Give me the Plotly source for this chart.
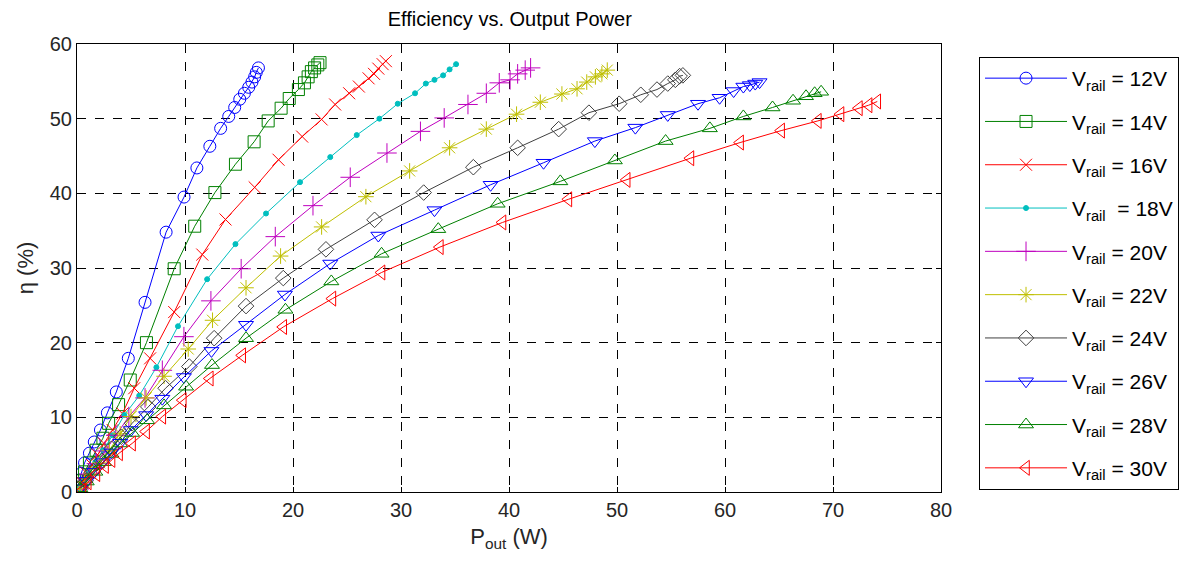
import plotly.graph_objects as go

# ---- data ----
labels = ["V<sub>rail</sub> = 12V", "V<sub>rail</sub> = 14V", "V<sub>rail</sub> = 16V",
          "V<sub>rail</sub> \u00a0= 18V", "V<sub>rail</sub> = 20V", "V<sub>rail</sub> = 22V",
          "V<sub>rail</sub> = 24V", "V<sub>rail</sub> = 26V", "V<sub>rail</sub> = 28V",
          "V<sub>rail</sub> = 30V"]

p12 = [0.05, 0.2, 0.4, 0.7, 1.15, 1.6, 2.17, 2.81, 3.64, 4.75, 6.3, 8.25, 9.91, 11.1, 12.3, 13.3, 14.05, 14.6, 15.07, 15.5, 15.9, 16.2, 16.45, 16.6, 16.8]
e12 = [0.6, 1.6, 2.5, 3.9, 5.2, 6.7, 8.3, 10.6, 13.4, 17.9, 25.4, 34.8, 39.5, 43.4, 46.3, 48.7, 50.3, 51.5, 52.6, 53.4, 54.2, 54.9, 55.6, 56.2, 56.8]

p14 = [0.1, 0.35, 0.7, 1.15, 1.77, 2.4, 2.93, 3.85, 4.93, 6.43, 9.0, 10.9, 12.77, 14.67, 16.4, 17.7, 18.9, 19.65, 20.5, 21.06, 21.4, 21.7, 22.0, 22.3, 22.5]
e14 = [0.6, 1.5, 2.7, 3.9, 5.6, 7.2, 9.2, 11.7, 15.0, 20.0, 29.9, 35.6, 40.1, 43.9, 46.9, 49.7, 51.4, 52.7, 53.9, 54.8, 55.6, 56.3, 56.8, 57.2, 57.5]

p16 = [0.15, 0.45, 0.9, 1.4, 1.9, 2.5, 3.3, 4.2, 5.3, 6.77, 9.0, 11.6, 13.75, 16.45, 18.66, 20.85, 22.65, 23.9, 25.2, 26.1, 27.0, 27.5, 27.9, 28.3, 28.6]
e16 = [0.5, 1.3, 2.5, 3.6, 5.0, 6.5, 8.3, 10.5, 13.9, 17.9, 24.1, 31.8, 36.5, 40.8, 44.5, 47.6, 49.9, 51.9, 53.4, 54.3, 55.4, 56.0, 56.7, 57.3, 57.7]

p18 = [0.2, 0.6, 1.1, 1.7, 2.4, 3.3, 4.38, 5.76, 7.35, 9.35, 12.05, 14.67, 17.5, 20.65, 23.45, 25.9, 28.0, 29.7, 31.3, 32.3, 33.1, 33.9, 34.5, 35.1]
e18 = [0.5, 1.4, 2.6, 4.0, 5.6, 7.6, 10.3, 12.9, 16.7, 22.2, 28.5, 33.2, 37.3, 41.5, 44.85, 47.8, 50.0, 52.0, 53.4, 54.7, 55.2, 55.8, 56.6, 57.3]

p20 = [0.2, 0.6, 1.1, 1.8, 2.6, 3.6, 4.8, 6.3, 7.9, 9.9, 12.4, 15.2, 18.36, 21.85, 25.3, 28.7, 31.8, 34.0, 36.2, 37.9, 39.1, 40.1, 40.8, 41.5, 42.0]
e20 = [0.4, 1.3, 2.4, 3.8, 5.5, 7.6, 10.1, 12.6, 16.3, 20.8, 25.6, 29.9, 34.2, 38.35, 42.15, 45.4, 48.3, 50.1, 51.9, 53.4, 54.8, 55.2, 56.0, 56.5, 56.8]

p22 = [0.25, 0.7, 1.3, 2.1, 3.0, 4.0, 5.0, 6.4, 8.06, 10.3, 12.55, 15.65, 18.85, 22.65, 26.75, 30.8, 34.5, 37.9, 40.7, 42.9, 44.9, 46.3, 47.2, 48.0, 48.6, 49.1]
e22 = [0.5, 1.3, 2.4, 3.9, 5.6, 7.8, 10.1, 12.6, 15.5, 19.15, 23.0, 27.35, 31.6, 35.5, 39.55, 43.0, 46.1, 48.6, 50.6, 52.2, 53.3, 54.0, 54.9, 55.6, 56.0, 56.5]

p24 = [0.3, 0.8, 1.5, 2.3, 3.2, 4.1, 5.1, 6.6, 8.2, 10.4, 12.7, 15.65, 19.1, 23.05, 27.55, 32.1, 36.7, 40.8, 44.6, 47.4, 50.2, 52.2, 53.7, 54.7, 55.4, 55.8, 56.1]
e24 = [0.6, 1.5, 2.8, 4.2, 5.8, 7.4, 9.2, 11.4, 13.9, 16.8, 20.6, 24.9, 28.65, 32.5, 36.45, 40.1, 43.5, 46.1, 48.6, 50.8, 52.0, 53.2, 53.9, 54.7, 55.2, 55.7, 55.8]

p26 = [0.3, 0.9, 1.6, 2.4, 3.2, 4.0, 4.99, 6.4, 7.9, 9.9, 12.45, 15.65, 19.25, 23.45, 27.9, 33.1, 38.3, 43.2, 47.95, 51.7, 54.7, 57.5, 59.5, 60.8, 61.7, 62.3, 62.8, 63.2]
e26 = [0.5, 1.5, 2.7, 4.0, 5.3, 6.6, 8.3, 10.3, 12.5, 15.4, 18.9, 22.4, 26.45, 30.6, 34.35, 37.75, 41.15, 44.1, 47.0, 48.8, 50.5, 52.0, 52.8, 53.7, 54.3, 54.5, 54.7, 54.9]

p28 = [0.3, 0.9, 1.7, 2.5, 3.2, 4.0, 5.1, 6.5, 8.06, 10.1, 12.5, 15.65, 19.3, 23.55, 28.2, 33.45, 38.95, 44.75, 49.8, 54.5, 58.6, 61.7, 64.4, 66.3, 67.5, 68.3, 68.9]
e28 = [0.5, 1.4, 2.7, 4.0, 5.1, 6.5, 7.9, 9.6, 11.6, 14.1, 17.0, 20.6, 24.4, 28.2, 31.9, 35.2, 38.6, 41.6, 44.4, 47.0, 48.7, 50.3, 51.5, 52.4, 53.0, 53.4, 53.6]

p30 = [0.5, 1.0, 1.8, 2.6, 3.2, 3.9, 5.1, 6.4, 7.9, 9.8, 12.3, 15.3, 19.1, 23.65, 28.2, 33.6, 39.4, 45.5, 50.9, 56.8, 61.4, 65.2, 68.6, 70.7, 72.4, 73.3, 74.1]
e30 = [0.2, 1.3, 2.4, 3.5, 4.3, 5.2, 6.5, 8.1, 10.1, 12.3, 15.2, 18.3, 22.1, 25.9, 29.4, 32.8, 36.1, 39.2, 41.8, 44.7, 46.8, 48.4, 49.7, 50.6, 51.4, 51.8, 52.3]

pout = [p12, p14, p16, p18, p20, p22, p24, p26, p28, p30]
eff = [e12, e14, e16, e18, e20, e22, e24, e26, e28, e30]

x_ticks = [0, 10, 20, 30, 40, 50, 60, 70, 80]
y_ticks = [0, 10, 20, 30, 40, 50, 60]

# ---- styles ----
colors = ["#0000ff", "#008000", "#ff0000", "#00bfbf", "#bf00bf", "#bfbf00",
          "#404040", "#0000ff", "#008000", "#ff0000"]
symbols = ["circle-open", "square-open", "x-thin-open", "circle", "cross-thin-open",
           "asterisk-open", "diamond-open", "triangle-down-open", "triangle-up-open",
           "triangle-left-open"]
sizes = [12, 12, 12, 5, 14, 13, 12, 13, 13, 13]

FONT = "Liberation Sans, Arial, sans-serif"

fig = go.Figure()
for i in range(len(labels)):
    fig.add_trace(go.Scatter(
        x=pout[i], y=eff[i], mode="lines+markers", name=labels[i],
        legendgroup=str(i),
        line=dict(color=colors[i], width=1),
        marker=dict(symbol=symbols[i], size=sizes[i], color=colors[i],
                    line=dict(color=colors[i], width=1)),
    ))

axis_common = dict(showline=True, linecolor="black", linewidth=1, mirror="ticks",
                   ticks="inside", ticklen=5, tickcolor="black",
                   showgrid=True, gridcolor="black", griddash="dash", gridwidth=1,
                   zeroline=False, tickfont=dict(family=FONT, size=20, color="#262626"))

fig.update_layout(
    width=1191, height=563,
    margin=dict(l=77, r=248, t=44, b=71),
    paper_bgcolor="white", plot_bgcolor="white",
    title=dict(text="Efficiency vs. Output Power", x=0.428, xanchor="center",
               y=0.967, yanchor="middle",
               font=dict(family=FONT, size=20, color="black")),
    xaxis=dict(range=[0, 80], tickvals=x_ticks, title=dict(text="P<sub>out</sub> (W)",
               font=dict(family=FONT, size=22, color="#262626"), standoff=8),
               **axis_common),
    yaxis=dict(range=[0, 60], tickvals=y_ticks, title=dict(text="η (%)",
               font=dict(family=FONT, size=22, color="#262626"), standoff=10),
               **axis_common),
    legend=dict(x=1.044, y=0.971, xanchor="left", yanchor="top",
                bordercolor="black", borderwidth=1, bgcolor="white",
                font=dict(family=FONT, size=21, color="black"),
                tracegroupgap=13, itemwidth=82),
    showlegend=True,
)

fig.write_html("out.html")
